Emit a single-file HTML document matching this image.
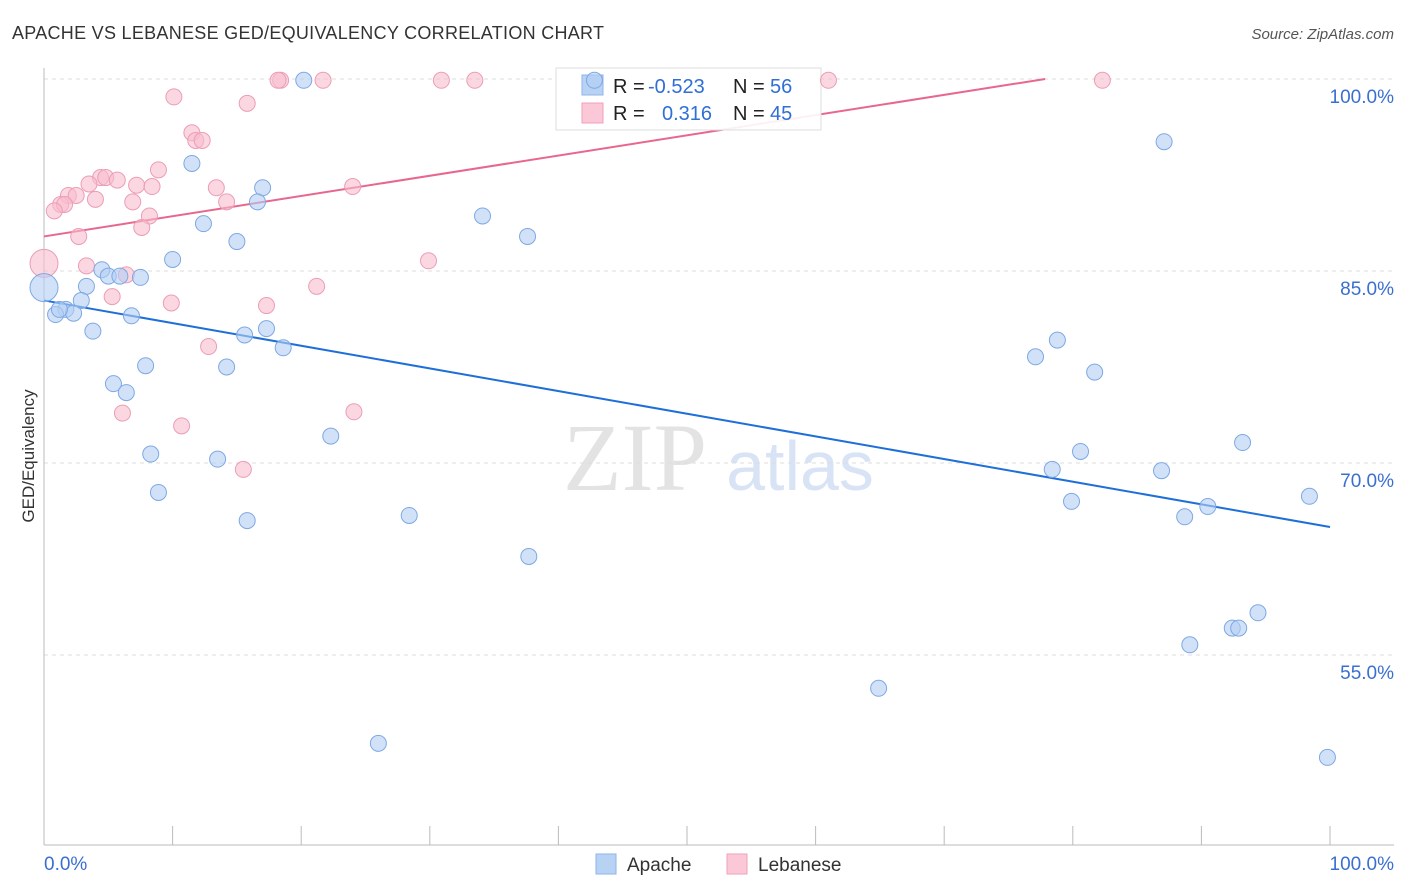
<!DOCTYPE html>
<html><head><meta charset="utf-8"><style>
body{margin:0;background:#fff;font-family:"Liberation Sans",sans-serif;}
svg{display:block}
</style></head><body>
<svg id="c" width="1406" height="892">
<text x="12" y="39" font-size="18" fill="#333" textLength="592">APACHE VS LEBANESE GED/EQUIVALENCY CORRELATION CHART</text>
<text x="1394" y="39" font-size="15" fill="#555" font-style="italic" text-anchor="end">Source: ZipAtlas.com</text>
<text x="635" y="490" font-size="96" fill="#e3e3e3" font-family="Liberation Serif,serif" text-anchor="middle">ZIP</text>
<text x="800" y="490" font-size="70" fill="#d8e4f5" text-anchor="middle">atlas</text>
<text x="34" y="456" font-size="17" fill="#333" transform="rotate(-90 34 456)" text-anchor="middle">GED/Equivalency</text>
<g id="grid"></g><g id="trend"></g>
<g>
<rect x="556" y="68" width="265" height="62" fill="#fff" fill-opacity="0.9" stroke="#ddd"/>
<rect x="582" y="75" width="21" height="20" fill="#b8d2f4" stroke="#8fb4e8"/>
<rect x="582" y="103" width="21" height="20" fill="#fac8d7" stroke="#f0a0ba"/>
<text x="613" y="93" font-size="20" fill="#222">R = <tspan fill="#2f6fd6" x="648">-0.523</tspan></text>
<text x="733" y="93" font-size="20" fill="#222">N = <tspan fill="#2f6fd6" x="770">56</tspan></text>
<text x="613" y="120" font-size="20" fill="#222">R = <tspan fill="#2f6fd6" x="662">0.316</tspan></text>
<text x="733" y="120" font-size="20" fill="#222">N = <tspan fill="#2f6fd6" x="770">45</tspan></text>
</g>
<g id="pts"></g>
<g>
<rect x="596" y="854" width="20" height="20" fill="#b8d2f4" stroke="#8fb4e8"/>
<text x="627" y="871" font-size="19" fill="#333">Apache</text>
<rect x="727" y="854" width="20" height="20" fill="#fac8d7" stroke="#f0a0ba"/>
<text x="758" y="871" font-size="19" fill="#333">Lebanese</text>
</g>
</svg>
<script>
const apacheX=[42.8,20.2,87.1,11.5,17.0,16.6,34.1,12.4,15.0,37.6,10.0,4.5,5.0,5.9,7.5,3.3,0,2.9,1.7,0.9,2.3,6.8,3.8,17.3,15.6,18.6,78.8,77.1,7.9,14.2,81.7,5.4,6.4,22.3,93.2,8.3,13.5,80.6,78.4,86.9,8.9,98.4,79.9,90.5,28.4,88.7,15.8,37.7,94.4,92.4,92.9,89.1,64.9,26.0,99.8,1.2];
const apacheY=[99.9,99.9,95.1,93.4,91.5,90.4,89.3,88.7,87.3,87.7,85.9,85.1,84.6,84.6,84.5,83.8,83.7,82.7,82.0,81.6,81.7,81.5,80.3,80.5,80.0,79.0,79.6,78.3,77.6,77.5,77.1,76.2,75.5,72.1,71.6,70.7,70.3,70.9,69.5,69.4,67.7,67.4,67.0,66.6,65.9,65.8,65.5,62.7,58.3,57.1,57.1,55.8,52.4,48.1,47.0,82.0];
const lebX=[18.4,18.2,21.7,30.9,33.5,61.0,82.3,10.1,15.8,11.5,11.8,12.3,8.9,4.4,4.8,5.7,3.5,7.2,8.4,13.4,24.0,1.9,2.5,4.0,6.9,14.2,1.3,1.6,0.8,8.2,7.6,2.7,0,29.9,3.3,6.4,21.2,5.3,9.9,17.3,12.8,6.1,24.1,10.7,15.5];
const lebY=[99.9,99.9,99.9,99.9,99.9,99.9,99.9,98.6,98.1,95.8,95.2,95.2,92.9,92.3,92.3,92.1,91.8,91.7,91.6,91.5,91.6,90.9,90.9,90.6,90.4,90.4,90.2,90.2,89.7,89.3,88.4,87.7,85.6,85.8,85.4,84.7,83.8,83.0,82.5,82.3,79.1,73.9,74.0,72.9,69.5];
const bigApache=[16], bigLeb=[32];
const trendApache=[82.7,65.0];
const trendLeb=[87.7,103.5];
const yTicks=[100,85,70,55];
const yTickLabels=["100.0%","85.0%","70.0%","55.0%"];
const xTicks=[0,10,20,30,40,50,60,70,80,90,100];
const X=v=>44+v*12.86, Y=v=>79+(100-v)*12.8;
const NS="http://www.w3.org/2000/svg";
function mk(tag,attrs,parent){const e=document.createElementNS(NS,tag);for(const k in attrs)e.setAttribute(k,attrs[k]);document.getElementById(parent).appendChild(e);return e;}
yTicks.forEach((t,i)=>{
 const l=mk('line',{x1:44,x2:1394,y1:Y(t),y2:Y(t),stroke:'#ddd','stroke-dasharray':'4,4'},'grid');
 
 
 const tx=mk('text',{x:1394,y:Y(t)+24,'font-size':19,fill:'#3a6fd0','text-anchor':'end'},'grid');
 tx.textContent=yTickLabels[i];
 
 
});
const ax=mk('line',{x1:44,x2:1394,y1:845,y2:845,stroke:'#bbb'},'grid');


const ay=mk('line',{x1:44,x2:44,y1:68,y2:845,stroke:'#bbb'},'grid');


xTicks.forEach(t=>{
 const l=mk('line',{x1:X(t),x2:X(t),y1:826,y2:845,stroke:'#bbb'},'grid');
 
 
});
[[0,'0.0%','start',44],[100,'100.0%','end',1394]].forEach(d=>{
 const tx=mk('text',{x:d[3],y:870,'font-size':19,fill:'#3a6fd0','text-anchor':d[2]},'grid');
 tx.textContent=d[1];
 
 
});
function pts(xs,ys,big,fill,stroke,name){
 xs.forEach((x,i)=>{
  const r=big.includes(i)?14:8;
  const c=mk('circle',{cx:X(x),cy:Y(ys[i]),r:r,fill:fill,'fill-opacity':0.6,stroke:stroke,'stroke-width':1},'pts');
  
  
 });
}
pts(lebX,lebY,bigLeb,'#f8bccd','#ec9db6','lebanese-point');
pts(apacheX,apacheY,bigApache,'#b3cff3','#7ea8e4','apache-point');
const tb=mk('line',{x1:X(0),y1:Y(trendApache[0]),x2:X(100),y2:Y(trendApache[1]),stroke:'#1f6fd8','stroke-width':2},'trend');


const s=(trendLeb[1]-trendLeb[0])/100, xe=Math.min(100,(100-trendLeb[0])/s);
const tp=mk('line',{x1:X(0),y1:Y(trendLeb[0]),x2:X(xe),y2:Y(trendLeb[0]+s*xe),stroke:'#e8678f','stroke-width':2},'trend');


</script>
</body></html>
